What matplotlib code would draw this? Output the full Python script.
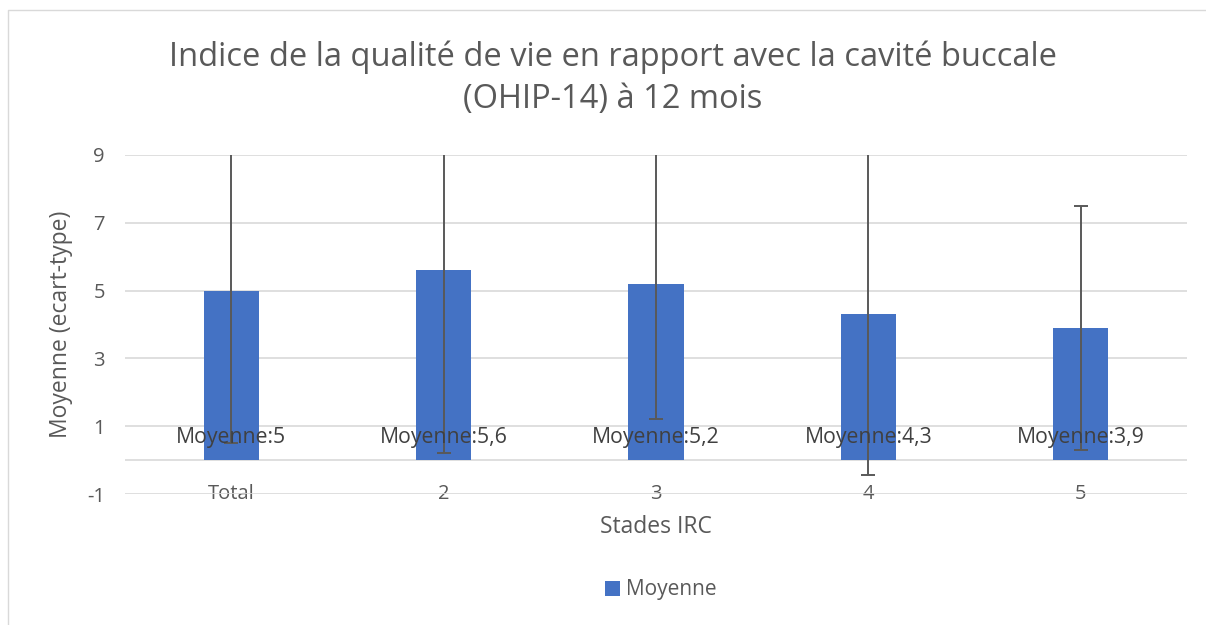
import matplotlib.pyplot as plt
from matplotlib.lines import Line2D

# données
stades = ['Total', '2', '3', '4', '5']
moyennes = [5.0, 5.6, 5.2, 4.3, 3.9]
ecarts_types = [4.5, 5.4, 4.0, 4.75, 3.6]
etiquettes = ['Moyenne:5', 'Moyenne:5,6', 'Moyenne:5,2', 'Moyenne:4,3', 'Moyenne:3,9']

plt.rcParams['font.family'] = ['Open Sans', 'DejaVu Sans']
plt.rcParams['axes.unicode_minus'] = False
gris = '#595959'

fig = plt.figure(figsize=(12.06, 6.25), dpi=100)
ax = fig.add_axes([0.1037, 0.2096, 0.8806, 0.5424])

x = list(range(len(stades)))
ax.bar(x, moyennes, width=0.26, color='#4472C4', zorder=2, label='Moyenne')
ax.errorbar(x, moyennes, yerr=ecarts_types, fmt='none', ecolor=gris,
            elinewidth=1.4, capsize=5, capthick=1.4, zorder=3)

for xi, txt in zip(x, etiquettes):
    ax.text(xi, 0.68, txt, ha='center', va='center', fontsize=15.3, color='#404040', zorder=4)

ax.set_xlim(-0.5, len(stades) - 0.5)
ax.set_ylim(-1, 9)
ax.set_yticks([-1, 1, 3, 5, 7, 9])
ax.set_xticks(x)
ax.set_xticklabels(stades)
ax.grid(axis='y', color='#D9D9D9', linewidth=1.2, zorder=0)
ax.axhline(0, color='#D9D9D9', linewidth=1.2, zorder=1)
for s in ax.spines.values():
    s.set_visible(False)
ax.tick_params(axis='both', length=0, labelsize=14.5, colors=gris)
ax.tick_params(axis='x', pad=-7)
ax.tick_params(axis='y', pad=14.5)

ax.set_ylabel('Moyenne (ecart-type)', fontsize=16.5, color=gris, labelpad=10)
ax.set_xlabel('Stades IRC', fontsize=16.5, color=gris, labelpad=8)

fig.text(0.508, 1 - 78 / 625,
         'Indice de la qualité de vie en rapport avec la cavité buccale\n(OHIP-14) à 12 mois',
         ha='center', va='center', fontsize=23.5, color=gris, linespacing=1.38)

fig.legend(loc='center', bbox_to_anchor=(661 / 1206, 1 - 590 / 625), frameon=False,
           fontsize=15, labelcolor=gris, handlelength=0.7, handleheight=0.7, handletextpad=0.3)

# cadre du graphique (bords gauche et haut)
fig.lines.append(Line2D([8 / 1206, 8 / 1206, 1], [0, 1 - 10 / 625, 1 - 10 / 625],
                        transform=fig.transFigure, color='#D9D9D9', linewidth=1))

plt.savefig('out.png', dpi=100)
